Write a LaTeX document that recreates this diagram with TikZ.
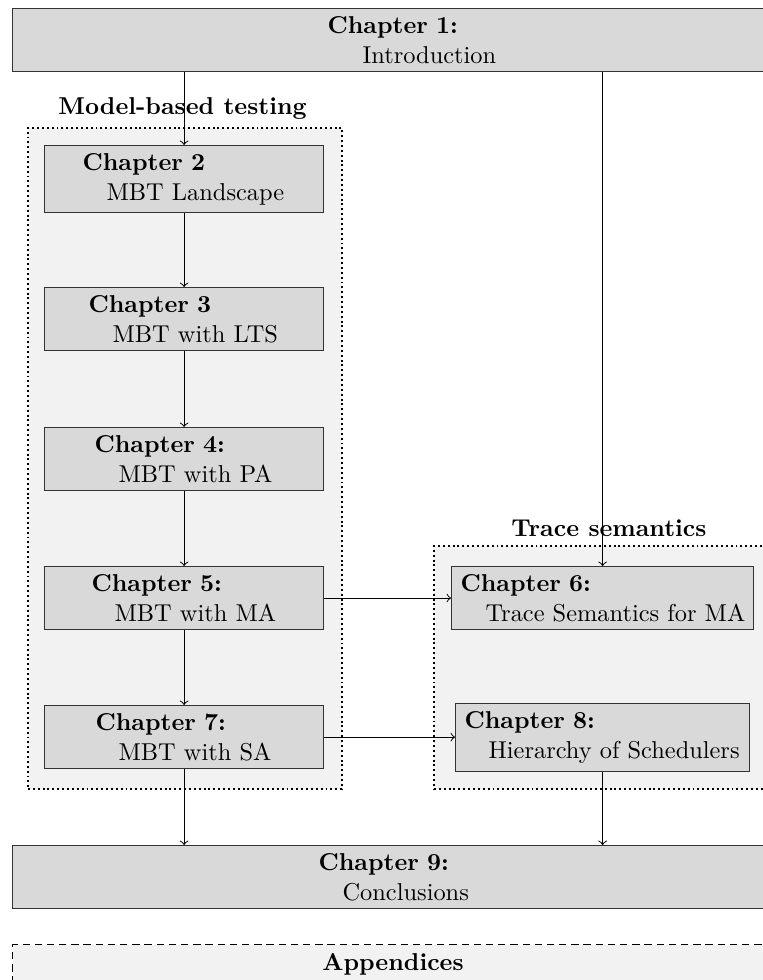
\documentclass[tikz,border=0pt]{standalone}
\usetikzlibrary{arrows}
% one drawing unit
\newlength\pxu
\setlength\pxu{0.41pt}
\tikzset{
  chap/.style={draw=black!80, fill=gray!30, line width=0.5pt, anchor=north west,
               inner xsep=0pt, align=left},
  group/.style={draw=black, fill=gray!10, dash pattern=on 0.8pt off 1.2pt, line width=0.8pt,
                anchor=north west, inner sep=0pt},
  appbox/.style={draw=black, fill=gray!10, dash pattern=on 3pt off 2pt, line width=0.6pt,
                 anchor=north west, inner sep=0pt},
  grouplabel/.style={anchor=base west, inner sep=0pt, font=\bfseries},
  link/.style={->, draw=black, line width=0.4pt},
}
% name, x, y, width, indent of title, indent of subtitle, title, subtitle
\newcommand\chapbox[8]{%
  \node[chap, text width=#4\pxu] (#1) at (#2,#3)
    {\noindent\hspace*{#5\pxu}\textbf{#7}\\\hspace*{#6\pxu}#8};}
\begin{document}
\begin{tikzpicture}[x=0.41pt, y=-0.41pt]
  \clip (0,0) rectangle (763,980);

  % groups
  \node[group, minimum width=314\pxu, minimum height=661\pxu] (mbt) at (27,127) {};
  \node[grouplabel] (mbtlabel) at (58,115) {Model-based testing};
  \node[group, minimum width=340\pxu, minimum height=243\pxu] (trace) at (433,545) {};
  \node[grouplabel] (tracelabel) at (511,536) {Trace semantics};

  % chapters
  \chapbox{ch1}{12}{8}{800}{315}{350}{Chapter 1:}{Introduction}
  \chapbox{ch2}{44}{145}{279}{38}{62}{Chapter 2}{MBT Landscape}
  \chapbox{ch3}{44}{287}{279}{44}{68}{Chapter 3}{MBT with LTS}
  \chapbox{ch4}{44}{427}{279}{50}{74}{Chapter 4:}{MBT with PA}
  \chapbox{ch5}{44}{566}{279}{47}{70}{Chapter 5:}{MBT with MA}
  \chapbox{ch7}{44}{705}{279}{51}{74}{Chapter 7:}{MBT with SA}
  \chapbox{ch6}{451}{566}{302}{9}{34}{Chapter 6:}{Trace Semantics for MA}
  \chapbox{ch8}{455}{703}{294}{9}{33}{Chapter 8:}{Hierarchy of Schedulers}
  \chapbox{ch9}{12}{845}{800}{306}{330}{Chapter 9:}{Conclusions}

  % appendices
  \node[appbox, minimum width=800\pxu, minimum height=100\pxu] (app) at (12,944) {};
  \node[anchor=base, inner sep=0pt, font=\bfseries] (applabel) at (393,970) {Appendices};

  % dependencies
  \draw[link] (ch2.north |- ch1.south) -- (ch2.north);
  \draw[link] (ch6.north |- ch1.south) -- (ch6.north);
  \draw[link] (ch2) -- (ch3);
  \draw[link] (ch3) -- (ch4);
  \draw[link] (ch4) -- (ch5);
  \draw[link] (ch5) -- (ch7);
  \draw[link] (ch5.east) -- (ch5.east -| ch6.west);
  \draw[link] (ch7.east) -- (ch7.east -| ch8.west);
  \draw[link] (ch7.south) -- (ch7.south |- ch9.north);
  \draw[link] (ch8.south) -- (ch8.south |- ch9.north);
\end{tikzpicture}
\end{document}
